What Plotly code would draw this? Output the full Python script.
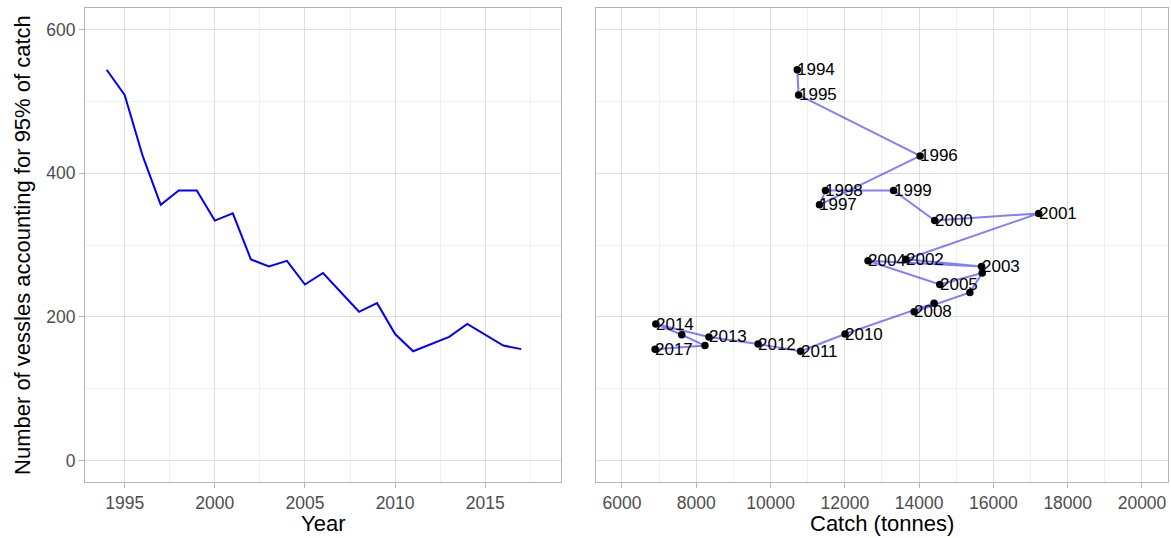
import plotly.graph_objects as go

# Fleet concentration: vessels accounting for 95% of catch, by year
years = [1994, 1995, 1996, 1997, 1998, 1999, 2000, 2001, 2002, 2003, 2004, 2005,
         2006, 2007, 2008, 2009, 2010, 2011, 2012, 2013, 2014, 2015, 2016, 2017]
vessels = [544, 509, 424, 356, 376, 376, 334, 344, 280, 270, 278, 245,
           261, 234, 207, 219, 176, 152, 162, 172, 190, 175, 160, 155]
catch_tonnes = [10720, 10755, 14027, 11318, 11479, 13312, 14420, 17218, 13643, 15681, 12624, 14555,
                15700, 15367, 13866, 14403, 12007, 10809, 9665, 8341, 6912, 7609, 8234, 6894]

# years whose text label is drawn on the catch/vessel path (others overlap and are skipped)
labelled_years = [1994, 1995, 1996, 1997, 1998, 1999, 2000, 2001, 2002, 2003, 2004, 2005,
                  2008, 2010, 2011, 2012, 2013, 2014, 2017]

year_ticks = [1995, 2000, 2005, 2010, 2015]
vessel_ticks = [0, 200, 400, 600]
catch_ticks = [6000, 8000, 10000, 12000, 14000, 16000, 18000, 20000]
catch_tick_labels = ["6000", "8000", "10000", "12000", "14000", "16000", "18000", "20000"]

FONT = "Liberation Sans, Arial, sans-serif"
BORDER = "#b3b3b3"
GRID = "#dedede"
GRID_MINOR = "#efefef"
TICK_FONT = dict(family=FONT, size=17.5, color="#4d4d4d")

lab_x = [c for c, y in zip(catch_tonnes, years) if y in labelled_years]
lab_y = [v for v, y in zip(vessels, years) if y in labelled_years]
lab_t = [str(y) for y in years if y in labelled_years]

fig = go.Figure()

fig.add_trace(go.Scatter(
    x=years, y=vessels, mode="lines",
    line=dict(color="#0000ff", width=2),
    xaxis="x", yaxis="y", showlegend=False, hoverinfo="skip",
))

fig.add_trace(go.Scatter(
    x=catch_tonnes, y=vessels, mode="lines",
    line=dict(color="rgba(0,0,255,0.5)", width=2),
    xaxis="x2", yaxis="y2", showlegend=False, hoverinfo="skip",
))
fig.add_trace(go.Scatter(
    x=catch_tonnes, y=vessels, mode="markers",
    marker=dict(color="black", size=7.5),
    xaxis="x2", yaxis="y2", showlegend=False, hoverinfo="skip",
))

# year labels start at each point, vertically centred on it
for cx, vy, txt in zip(lab_x, lab_y, lab_t):
    fig.add_annotation(
        x=cx, y=vy, xref="x2", yref="y2", text=txt, showarrow=False,
        xanchor="left", yanchor="middle", xshift=-1, yshift=0, borderpad=0,
        font=dict(family=FONT, size=17, color="black"),
    )

axis_common = dict(
    showline=True, linecolor=BORDER, linewidth=1, mirror=True,
    showgrid=True, gridcolor=GRID, gridwidth=1,
    zeroline=False, ticks="outside", ticklen=5, tickcolor=BORDER, tickwidth=1,
    tickfont=TICK_FONT,
)
axis_no_ticks = {k: v for k, v in axis_common.items() if k != "ticks"}

fig.update_layout(
    width=1171, height=538,
    margin=dict(l=85, r=3, t=8, b=56),
    paper_bgcolor="white", plot_bgcolor="white",
    font=dict(family=FONT),
    xaxis=dict(domain=[0, 0.4395], range=[1992.8, 2019.2], tickvals=year_ticks,
               minor=dict(dtick=2.5, tick0=1992.5, showgrid=True, gridcolor=GRID_MINOR,
                          gridwidth=1, ticks=""),
               anchor="y", **axis_common),
    yaxis=dict(domain=[0, 1], range=[-30, 630], tickvals=vessel_ticks,
               minor=dict(dtick=100, tick0=0, showgrid=True, gridcolor=GRID_MINOR,
                          gridwidth=1, ticks=""),
               anchor="x", **axis_common),
    xaxis2=dict(domain=[0.4718, 1], range=[5300, 20700], tickvals=catch_ticks,
                ticktext=catch_tick_labels,
                minor=dict(dtick=1000, tick0=5000, showgrid=True, gridcolor=GRID_MINOR,
                           gridwidth=1, ticks=""),
                anchor="y2", **axis_common),
    yaxis2=dict(domain=[0, 1], range=[-30, 630], tickvals=vessel_ticks,
                minor=dict(dtick=100, tick0=0, showgrid=True, gridcolor=GRID_MINOR,
                           gridwidth=1, ticks=""),
                anchor="x2", showticklabels=False, ticks="", **axis_no_ticks),
)

title_font = dict(family=FONT, size=22, color="black")
fig.add_annotation(text="Year", xref="x domain", x=0.5, yref="paper", y=-0.0865,
                   xanchor="center", yanchor="middle", showarrow=False, font=title_font)
fig.add_annotation(text="Catch (tonnes)", xref="x2 domain", x=0.5, yref="paper", y=-0.0865,
                   xanchor="center", yanchor="middle", showarrow=False, font=title_font)
fig.add_annotation(text="Number of vessles accounting for 95% of catch",
                   xref="paper", x=-0.0582, yref="y domain", y=0.5, textangle=-90,
                   xanchor="center", yanchor="middle", showarrow=False, font=title_font)

fig.write_html("out.html")
